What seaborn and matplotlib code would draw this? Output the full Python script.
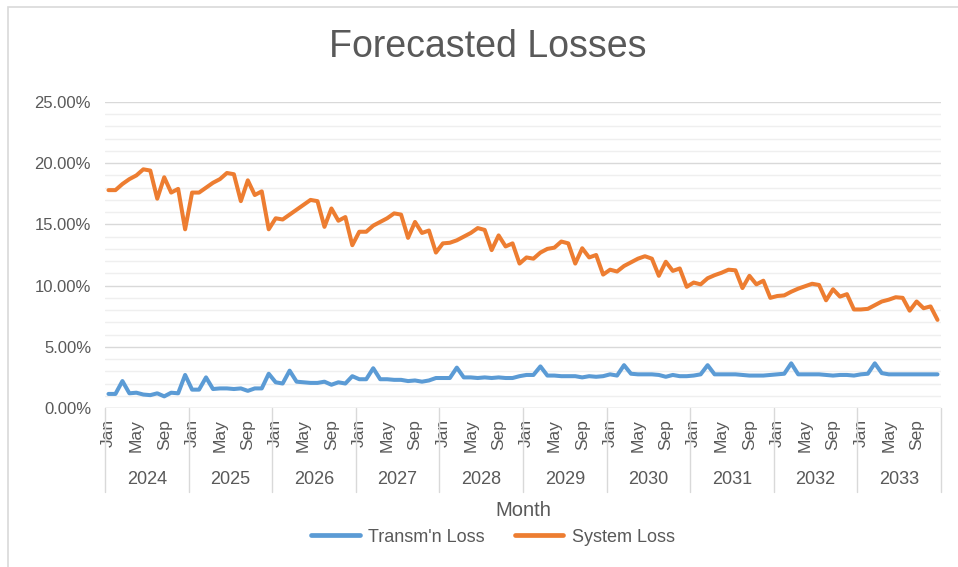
import numpy as np
import pandas as pd
import matplotlib
matplotlib.use("Agg")
import matplotlib.pyplot as plt
import matplotlib.transforms as mtransforms
from matplotlib.patches import Rectangle
import seaborn as sns

years = list(range(2024, 2034))
month_names = ["Jan", "Feb", "Mar", "Apr", "May", "Jun",
               "Jul", "Aug", "Sep", "Oct", "Nov", "Dec"]
shown_months = ["Jan", "May", "Sep"]

transm_loss = [
    1.15, 1.15, 2.20, 1.20, 1.25, 1.10, 1.05, 1.20, 0.95, 1.25, 1.20, 2.70,   # 2024
    1.50, 1.50, 2.50, 1.55, 1.60, 1.60, 1.55, 1.60, 1.40, 1.60, 1.60, 2.80,   # 2025
    2.10, 2.00, 3.05, 2.15, 2.10, 2.05, 2.05, 2.15, 1.90, 2.10, 2.00, 2.60,   # 2026
    2.35, 2.35, 3.25, 2.35, 2.35, 2.30, 2.30, 2.20, 2.25, 2.15, 2.25, 2.45,   # 2027
    2.45, 2.45, 3.30, 2.50, 2.50, 2.45, 2.50, 2.45, 2.50, 2.45, 2.45, 2.60,   # 2028
    2.70, 2.70, 3.40, 2.65, 2.65, 2.60, 2.60, 2.60, 2.50, 2.60, 2.55, 2.60,   # 2029
    2.75, 2.65, 3.50, 2.80, 2.75, 2.75, 2.75, 2.70, 2.55, 2.70, 2.60, 2.60,   # 2030
    2.65, 2.75, 3.50, 2.75, 2.75, 2.75, 2.75, 2.70, 2.65, 2.65, 2.65, 2.70,   # 2031
    2.75, 2.80, 3.65, 2.75, 2.75, 2.75, 2.75, 2.70, 2.65, 2.70, 2.70, 2.65,   # 2032
    2.75, 2.80, 3.65, 2.85, 2.75, 2.75, 2.75, 2.75, 2.75, 2.75, 2.75, 2.75,   # 2033
]

system_loss = [
    17.80, 17.80, 18.30, 18.70, 19.00, 19.50, 19.40, 17.10, 18.85, 17.60, 17.90, 14.60,  # 2024
    17.60, 17.60, 18.00, 18.40, 18.70, 19.20, 19.10, 16.90, 18.60, 17.40, 17.70, 14.60,  # 2025
    15.50, 15.40, 15.80, 16.20, 16.60, 17.00, 16.90, 14.80, 16.30, 15.30, 15.60, 13.30,  # 2026
    14.40, 14.40, 14.90, 15.20, 15.50, 15.90, 15.80, 13.90, 15.20, 14.30, 14.50, 12.70,  # 2027
    13.45, 13.50, 13.70, 14.00, 14.30, 14.70, 14.55, 12.90, 14.10, 13.20, 13.45, 11.80,  # 2028
    12.30, 12.20, 12.70, 13.00, 13.10, 13.60, 13.45, 11.80, 13.05, 12.30, 12.50, 10.90,  # 2029
    11.30, 11.15, 11.60, 11.90, 12.20, 12.40, 12.20, 10.80, 11.95, 11.20, 11.40, 9.90,   # 2030
    10.25, 10.10, 10.60, 10.85, 11.05, 11.30, 11.25, 9.80, 10.80, 10.10, 10.40, 9.00,    # 2031
    9.15, 9.20, 9.50, 9.75, 9.95, 10.15, 10.05, 8.80, 9.70, 9.10, 9.30, 8.05,            # 2032
    8.05, 8.10, 8.40, 8.70, 8.85, 9.05, 9.00, 7.95, 8.70, 8.15, 8.30, 7.20,              # 2033
]

series_names = ["Transm'n Loss", "System Loss"]
series_colors = ["#5B9BD5", "#ED7D31"]

n = len(years) * 12
idx = np.arange(n)
df = pd.concat([
    pd.DataFrame({"idx": idx, "value": transm_loss, "series": series_names[0]}),
    pd.DataFrame({"idx": idx, "value": system_loss, "series": series_names[1]}),
], ignore_index=True)

sns.set_theme(style="white")
plt.rcParams["font.family"] = ["Liberation Sans", "DejaVu Sans"]
text_color = "#595959"

W, H = 958, 567
fig = plt.figure(figsize=(W / 100, H / 100), dpi=100)
ax = fig.add_axes([105 / W, 1 - 408 / H, (941 - 105) / W, (408 - 102) / H])

# chart frame
fig.patches.append(Rectangle((8 / W, -0.1), 1.2, 1 - 7 / H + 0.1,
                             transform=fig.transFigure, fill=False,
                             edgecolor="#d9d9d9", linewidth=1.2))

sns.lineplot(data=df, x="idx", y="value", hue="series", hue_order=series_names,
             palette=series_colors, linewidth=2.9, ax=ax, legend=False, zorder=3)

ax.set_xlim(-0.5, n - 0.5)
ax.set_ylim(0, 25)
ax.set_yticks(np.arange(0, 25.01, 5))
ax.set_yticklabels([f"{v:.2f}%" for v in np.arange(0, 25.01, 5)])
ax.set_yticks(np.arange(0, 25.01, 1), minor=True)
ax.grid(True, which="major", axis="y", color="#d9d9d9", linewidth=1.0, zorder=0)
ax.grid(True, which="minor", axis="y", color="#efefef", linewidth=1.0, zorder=0)
ax.grid(False, axis="x")
for s in ax.spines.values():
    s.set_visible(False)
ax.axhline(0, color="#d9d9d9", linewidth=1.0, zorder=1)

xt = [i for i in idx if month_names[i % 12] in shown_months]
ax.set_xticks(xt)
ax.set_xticklabels([month_names[i % 12] for i in xt], rotation=90, va="top", ha="center")
ax.tick_params(axis="x", length=0, pad=8, labelsize=12.5, labelcolor=text_color)
ax.tick_params(axis="y", which="both", length=0, pad=10, labelsize=12, labelcolor=text_color)
ax.set_xlabel("")
ax.set_ylabel("")

trans = mtransforms.blended_transform_factory(ax.transData, ax.transAxes)
sep_bottom = -(492 - 408) / (408 - 102)
for k in range(len(years) + 1):
    x = -0.5 + 12 * k
    ax.plot([x, x], [0, sep_bottom], transform=trans, color="#d9d9d9",
            linewidth=1.0, clip_on=False)
year_y = -(480 - 408) / (408 - 102)
for k, yr in enumerate(years):
    ax.text(12 * k + 5.5, year_y, str(yr), transform=trans, ha="center",
            va="center", fontsize=13, color=text_color)

fig.text(0.5 * (105 + 941) / W, 1 - 510 / H, "Month", ha="center", va="center",
         fontsize=14.5, color=text_color)
fig.text(488 / W, 1 - 47 / H, "Forecasted Losses", ha="center", va="center",
         fontsize=27, color=text_color)

handles = [plt.Line2D([], [], color=c, linewidth=3.4, solid_capstyle="round")
           for c in series_colors]
leg = fig.legend(handles, series_names, loc="center", bbox_to_anchor=(493 / W, 1 - 537 / H),
                 ncol=2, frameon=False, fontsize=13, handlelength=2.7,
                 columnspacing=1.65, handletextpad=0.45)
for t in leg.get_texts():
    t.set_color(text_color)

fig.savefig("out.png", dpi=100)
